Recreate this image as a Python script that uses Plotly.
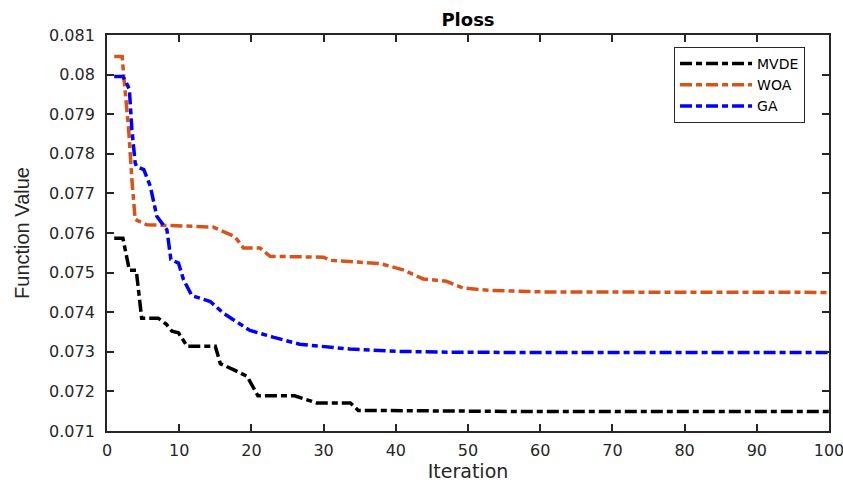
import plotly.graph_objects as go

# ---- data ----
mvde_x = [1, 2.2, 3.1, 4.05, 4.8, 7.1, 8.2, 9, 9.9, 11.1, 15, 15.7, 17.5, 19.4, 20.9, 26, 29, 33.7, 34.8, 45, 60, 100]
mvde_y = [0.07587, 0.07587, 0.07506, 0.07506, 0.07385, 0.07385, 0.07370, 0.07352, 0.07348, 0.07314, 0.07314,
          0.0727, 0.07255, 0.07238, 0.07189, 0.07189, 0.07171, 0.07171, 0.07152, 0.07151, 0.07149, 0.07149]

woa_x = [1, 2.1, 2.3, 3.0, 3.45, 3.9, 5.5, 14.7, 17.7, 18.9, 21.2, 22.6, 30, 30.9, 37.8, 41, 43.8, 47, 49.3, 53, 61, 100]
woa_y = [0.08046, 0.08046, 0.0800, 0.07861, 0.07735, 0.07634, 0.07621, 0.07615, 0.07591, 0.07562, 0.07562,
         0.07541, 0.07539, 0.07531, 0.07523, 0.07507, 0.07484, 0.07478, 0.07461, 0.07455, 0.07451, 0.07450]

ga_x = [1, 2.2, 2.8, 3.1, 3.45, 3.9, 4.1, 5.1, 6, 6.9, 7.6, 8.3, 8.85, 9.9, 10.6, 11.75, 14.3, 16.1, 17.5,
        19.8, 23, 26.7, 33.6, 40.6, 47.5, 61, 100]
ga_y = [0.07995, 0.07995, 0.07975, 0.07962, 0.07861, 0.07777, 0.07768, 0.0776, 0.07718, 0.07642, 0.07625,
        0.07608, 0.07533, 0.07524, 0.07482, 0.07442, 0.07427, 0.07398, 0.07381, 0.07354, 0.07337, 0.07319,
        0.07307, 0.07301, 0.07299, 0.07298, 0.07298]

x_ticks = [0, 10, 20, 30, 40, 50, 60, 70, 80, 90, 100]
y_ticks = [0.071, 0.072, 0.073, 0.074, 0.075, 0.076, 0.077, 0.078, 0.079, 0.080, 0.081]
y_tick_labels = ["0.071", "0.072", "0.073", "0.074", "0.075", "0.076", "0.077", "0.078", "0.079", "0.08", "0.081"]

series = [
    ("MVDE", mvde_x, mvde_y, "#000000"),
    ("WOA", woa_x, woa_y, "#D95319"),
    ("GA", ga_x, ga_y, "#0000FF"),
]

FONT = "DejaVu Sans, Liberation Sans, Arial"

fig = go.Figure()
for name, xs, ys, col in series:
    fig.add_trace(go.Scatter(x=xs, y=ys, mode="lines", name=name,
                             line=dict(color=col, width=3.5, dash="12px,4px,6px,4px")))

axis_common = dict(showline=True, linecolor="#262626", linewidth=1.8, mirror="ticks",
                   ticks="inside", ticklen=7, tickcolor="#262626", tickwidth=1.5,
                   showgrid=False, zeroline=False, automargin=False,
                   ticklabeloverflow="allow",
                   tickfont=dict(family=FONT, size=16, color="#262626"))

fig.update_layout(
    width=843, height=482,
    margin=dict(l=107, r=14, t=35, b=51),
    paper_bgcolor="white", plot_bgcolor="white",
    title=dict(text="<b>Ploss</b>", x=(107 + 829) / 2 / 843, xanchor="center", y=1 - 20 / 482, yanchor="middle",
               font=dict(family=FONT, size=18, color="#000000")),
    xaxis=dict(range=[0, 100], tickvals=x_ticks, ticklabelstandoff=4,
               title=dict(text="Iteration", standoff=6,
                          font=dict(family=FONT, size=19, color="#262626")),
               **axis_common),
    yaxis=dict(range=[0.071, 0.081], tickvals=y_ticks, ticktext=y_tick_labels, ticklabelstandoff=7,
               title=dict(text="Function Value", standoff=14,
                          font=dict(family="Liberation Sans, Arial", size=20, color="#262626")),
               **axis_common),
    legend=dict(x=(806 - 107) / 723, y=(431 - 47) / 396, xanchor="right", yanchor="top",
                bgcolor="white", bordercolor="#262626", borderwidth=1,
                font=dict(family=FONT, size=14, color="#000000"),
                tracegroupgap=0, itemwidth=72),
    showlegend=True,
)

fig.write_html("out.html")
